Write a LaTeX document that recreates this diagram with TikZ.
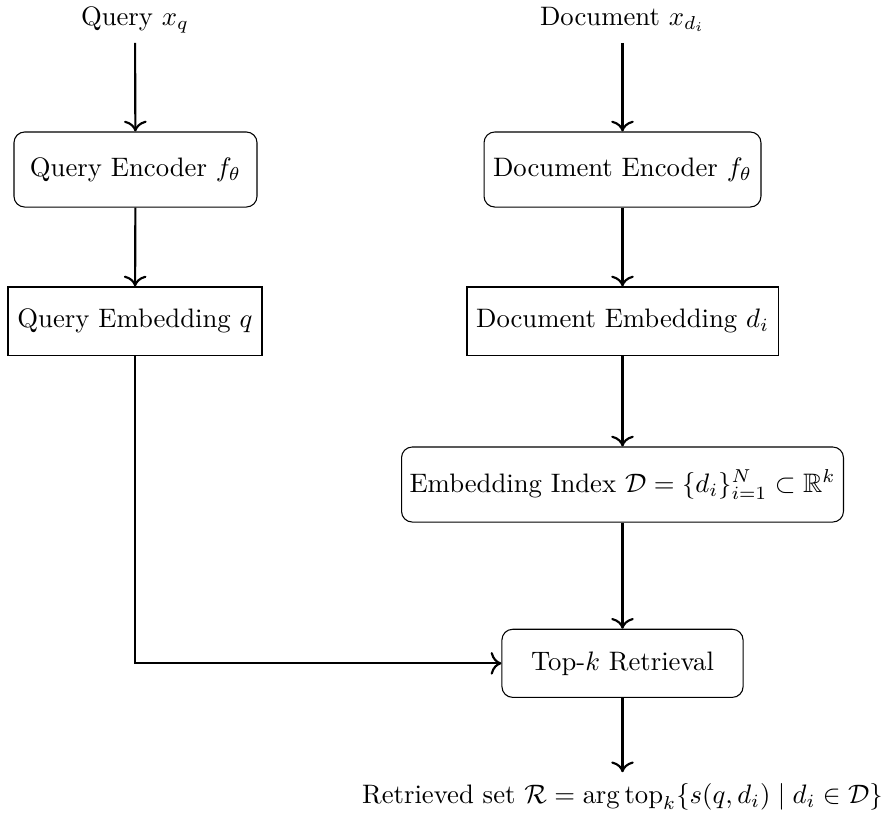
\documentclass[tikz,border=0pt]{standalone}
\usepackage{amsmath,amssymb}
\usetikzlibrary{arrows.meta}

\begin{document}
\begin{tikzpicture}[x=0.3745pt,y=-0.3745pt,
  box/.style={draw, line width=0.4pt, inner sep=0pt, align=center},
  rbox/.style={box, rounded corners=4pt},
  endlabel/.style={inner xsep=0pt, inner ysep=3.33pt},
  flow/.style={-{To[scale=1.2]}, thick}]
\useasboundingbox (0,0) rectangle (882,812);

% inputs
\node[endlabel, anchor=base, text depth=3.2pt] (xq) at (135,25) {Query $x_q$};
\node[endlabel, anchor=base, text depth=3.2pt] (xd) at (622.5,25) {Document $x_{d_i}$};

% query branch
\node[rbox, minimum width=91pt, minimum height=28.1pt] (qenc) at (135.5,169.5) {Query Encoder $f_\theta$};
\node[box, minimum width=95.1pt, minimum height=25.5pt] (qemb) at (135,321) {Query Embedding $q$};

% document branch
\node[rbox, minimum width=103.7pt, minimum height=28.1pt] (denc) at (622.5,169.5) {Document Encoder $f_\theta$};
\node[box, minimum width=116.5pt, minimum height=25.5pt] (demb) at (622.5,321) {Document Embedding $d_i$};
\node[rbox, minimum width=165.5pt, minimum height=28.1pt] (index) at (622.5,484.5)
  {Embedding Index $\mathcal{D}=\{d_i\}_{i=1}^{N}\subset\mathbb{R}^k$};

% retrieval
\node[rbox, minimum width=90.3pt, minimum height=25.5pt] (topk) at (622.5,663.3) {Top-$k$ Retrieval};
\node[endlabel, anchor=base, text height=8pt] (out) at (622.5,803)
  {Retrieved set $\mathcal{R}=\arg\operatorname{top}_k\{s(q,d_i)\mid d_i\in\mathcal{D}\}$};

% connectors
\draw[flow] (xq) -- (qenc);
\draw[flow] (qenc) -- (qemb);
\draw[flow] (xd) -- (denc);
\draw[flow] (denc) -- (demb);
\draw[flow] (demb) -- (index);
\draw[flow] (index) -- (topk);
\draw[flow] (qemb.south) |- (topk.west);
\draw[flow] (topk) -- (out);
\end{tikzpicture}
\end{document}
